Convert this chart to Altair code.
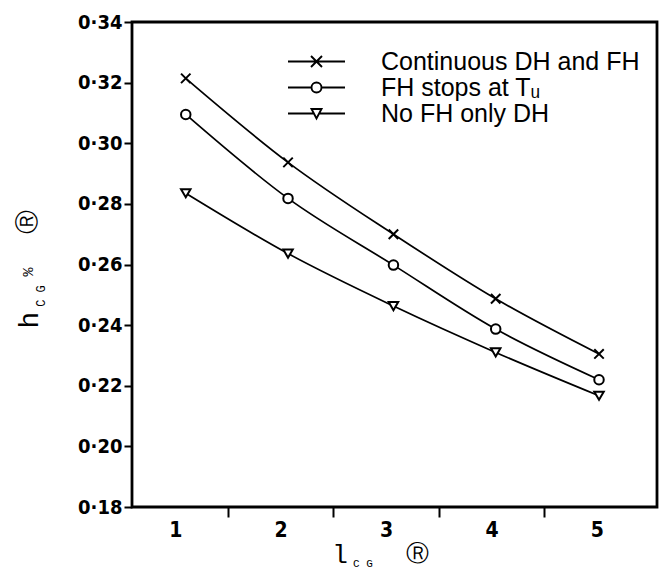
import altair as alt
import pandas as pd

# ---- data ----
x_vals = [1.1, 2.07, 3.07, 4.04, 5.02]
series_names = ["Continuous DH and FH", "FH stops at T\u1d64", "No FH only DH"]
cont_vals = [0.3214, 0.2937, 0.2700, 0.2487, 0.2305]
fh_stop_vals = [0.3095, 0.2818, 0.2598, 0.2387, 0.2220]
no_fh_vals = [0.2835, 0.2636, 0.2463, 0.2310, 0.2167]
y_tick_vals = [0.18, 0.20, 0.22, 0.24, 0.26, 0.28, 0.30, 0.32, 0.34]
x_tick_vals = [1, 1.5, 2, 2.5, 3, 3.5, 4, 4.5, 5]

rows = []
for name, vals in zip(series_names, [cont_vals, fh_stop_vals, no_fh_vals]):
    for xv, yv in zip(x_vals, vals):
        rows.append({"series": name, "x": xv, "y": yv})
df = pd.DataFrame(rows)

cross_path = "M-1,-1L1,1M-1,1L1,-1"
point_shapes = [cross_path, "circle", "triangle-down"]
legend_shapes = [
    "M-2.85,0H2.85M-0.55,-0.55L0.55,0.55M-0.55,0.55L0.55,-0.55",
    "M-2.85,0H-0.5M0.5,0H2.85M0.5,0A0.5,0.5 0 1,1 -0.5,0A0.5,0.5 0 1,1 0.5,0Z",
    "M-2.85,0H-0.26M0.26,0H2.85M-0.5,-0.45L0.5,-0.45L0,0.5Z",
]

tick_font = "DejaVu Sans Condensed"

x_enc = alt.X(
    "x:Q",
    scale=alt.Scale(domain=[0.59, 5.57], nice=False, zero=False),
    axis=alt.Axis(
        values=x_tick_vals,
        labelExpr="datum.value % 1 == 0 ? format(datum.value, 'd') : ''",
        title=None, domain=False, grid=False,
        tickSize=10, tickWidth=2,
        tickColor={"condition": {"test": "datum.value % 1 == 0", "value": "transparent"}, "value": "black"},
        labelFont=tick_font, labelFontWeight="bold", labelFontSize=21,
        labelColor="black", labelPadding=2, labelOverlap=False, labelFlush=False,
    ),
)
y_enc = alt.Y(
    "y:Q",
    scale=alt.Scale(domain=[0.18, 0.34], nice=False, zero=False),
    axis=alt.Axis(
        values=y_tick_vals,
        labelExpr="replace(format(datum.value, '.2f'), '.', '\u00b7')",
        title=None, domain=False, grid=False,
        tickSize=8, tickWidth=2, tickColor="black",
        labelFont=tick_font, labelFontWeight="bold", labelFontSize=20,
        labelColor="black", labelPadding=2, labelOverlap=False, labelFlush=False,
    ),
)

base = alt.Chart(df)

lines = base.mark_line(color="black", strokeWidth=1.7, interpolate="monotone").encode(
    x=x_enc, y=y_enc, detail="series:N"
)

points = base.mark_point(filled=True, fill="white", stroke="black", strokeWidth=2,
                         size=90, opacity=1).encode(
    x=x_enc, y=y_enc,
    shape=alt.Shape("series:N", scale=alt.Scale(domain=series_names, range=point_shapes),
                    legend=None),
)

legend_layer = base.transform_filter("false").mark_point(
    filled=False, color="black", strokeWidth=1.9, opacity=1
).encode(
    x=x_enc, y=y_enc,
    shape=alt.Shape(
        "series:N",
        scale=alt.Scale(domain=series_names, range=legend_shapes),
        legend=alt.Legend(
            orient="none", legendX=172, legendY=27, title=None,
            symbolSize=400, symbolStrokeWidth=1.9, symbolStrokeColor="black",
            symbolOpacity=1,
            labelFont="Liberation Sans", labelFontSize=25, labelColor="black",
            labelOffset=52, labelLimit=500, rowPadding=0, padding=0,
        ),
    ),
)


def label(text, px, py, size, font="Liberation Mono", angle=0, weight="normal"):
    return alt.Chart(pd.DataFrame({"t": [text]})).mark_text(
        font=font, fontSize=size, angle=angle, color="black", fontWeight=weight,
        align="center", baseline="middle",
    ).encode(text="t:N", x=alt.value(px), y=alt.value(py))


titles = [
    label("l", 208, 533, 26),
    label("C G", 231, 542, 11),
    label("\u24c7", 285, 532, 23, font="DejaVu Sans"),
    label("h", -102, 298, 28, angle=270),
    label("C G", -91, 274, 12, angle=270),
    label("%", -104, 250, 15, angle=270),
    label("\u24c7", -104, 200, 24, font="DejaVu Sans", angle=270),
]

chart = alt.layer(lines, points, legend_layer, *titles).resolve_scale(
    shape="independent"
).resolve_legend(shape="independent").properties(
    width=525, height=485,
    autosize=alt.AutoSizeParams(type="none"),
    padding={"left": 124, "top": 14, "right": 4, "bottom": 68},
).configure_view(stroke="black", strokeWidth=2.8)

chart.save("out.html", embed_options={"renderer": "svg", "actions": False})
